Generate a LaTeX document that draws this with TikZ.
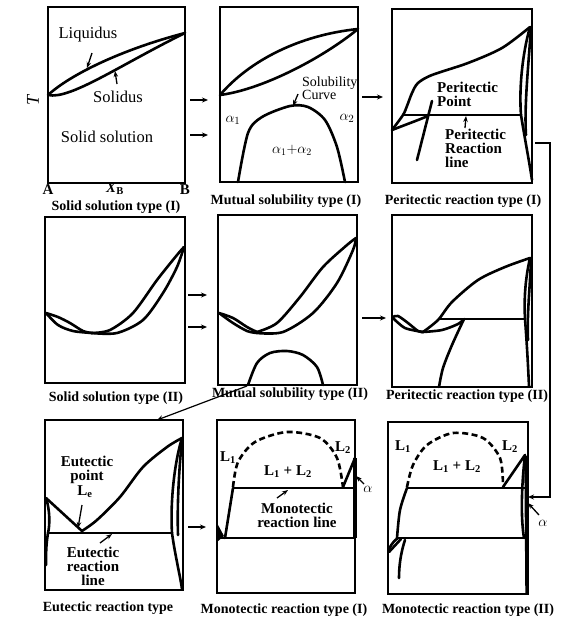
\documentclass[tikz,border=0pt]{standalone}
\usepackage{fontspec}
\setmainfont{Liberation Serif}
\usetikzlibrary{arrows.meta}

\begin{document}
\begin{tikzpicture}[
			x=1pt, y=-1pt,
			panel/.style={line width=2pt},
			curve/.style={line width=2.6pt, line join=round, line cap=round},
			tie/.style={line width=2pt},
			dome/.style={line width=2.6pt, dash pattern=on 6pt off 3.5pt},
			flow/.style={-{Stealth[length=6pt, width=5pt]}, line width=1.2pt},
			pointer/.style={-{Stealth[length=6pt, width=4.5pt]}, line width=1.3pt},
			caption/.style={font=\bfseries\fontsize{14}{16}\selectfont, inner sep=0pt},
			plain/.style={font=\fontsize{16.5}{18}\selectfont, inner sep=0pt},
			bold/.style={font=\bfseries\fontsize{15}{14}\selectfont, inner sep=0pt, align=left}
			]
			\useasboundingbox (0,0) rectangle (564,619);
			
			% Solid solution type (I)
			\draw[panel] (48,7) rectangle (185,183);
			\draw[curve] (48,95) .. controls (70,75) and (120,50) .. (185,33);
			\draw[curve] (48,95) .. controls (70,100) and (120,65) .. (185,33);
			\node[plain] (liq) at (88,35) {Liquidus};
			\node[plain] (sol) at (118,97) {Solidus};
			\node[plain] (ss) at (107,137) {Solid solution};
			\coordinate (liq-from) at (92,53);
			\coordinate (liq-to) at (87,68);
			\coordinate (sol-from) at (117,84);
			\coordinate (sol-to) at (115,71);
			\draw[pointer] (liq-from) -- (liq-to);
			\draw[pointer] (sol-from) -- (sol-to);
			\node[font=\bfseries\fontsize{15}{16}\selectfont, inner sep=0pt] (xa) at (48,190) {A};
			\node[font=\bfseries\fontsize{15}{16}\selectfont, inner sep=0pt] (xb) at (115,189) {\textit{X}\textsubscript{B}};
			\node[font=\bfseries\fontsize{15}{16}\selectfont, inner sep=0pt] (xbb) at (185,190) {B};
			\node[font=\itshape\fontsize{18}{18}\selectfont, rotate=90] (temp) at (33,100) {T};
			\node[caption] (c1) at (116,207) {Solid solution type (I)};
			
			% Mutual solubility type (I)
			\draw[panel] (220,7) rectangle (358,182);
			\draw[curve] (220,95) .. controls (250,60) and (300,35) .. (358,29);
			\draw[curve] (220,95) .. controls (260,90) and (320,60) .. (358,29);
			\draw[curve] plot[smooth] coordinates {(238,182) (248,133) (262,117) (290,106) (308,107) (325,120) (337,147) (345,182)};
			\node[font=\fontsize{14}{13}\selectfont, inner sep=0pt, align=left, anchor=west] (solcurve) at (302,88) {Solubility\\Curve};
			\coordinate (sc-from) at (298,94);
			\coordinate (sc-to) at (293,106);
			\draw[pointer] (sc-from) -- (sc-to);
			\node[font=\fontsize{15}{16}\selectfont] (a1) at (233,120) {$\alpha_1$};
			\node[font=\fontsize{15}{16}\selectfont] (a2) at (347,118) {$\alpha_2$};
			\node[font=\fontsize{14}{16}\selectfont] (a12) at (292,150) {$\alpha_1{+}\alpha_2$};
			\node[caption] (c2) at (286,201) {Mutual solubility type (I)};
			
			% Peritectic reaction type (I)
			\draw[panel] (392,9) rectangle (532,183);
			\draw[curve] plot[smooth] coordinates {(392,130) (403,115) (407,106) (412,93) (418,83) (432,75) (468,63) (502,48) (530,27)};
			\draw[curve] plot[smooth] coordinates {(392,130) (405,125) (418,120) (428,116)};
			\draw[tie] (403,115) -- (521,115);
			\draw[curve] (530,27) .. controls (522,55) and (519,90) .. (521,115);
			\draw[curve] (531,27) .. controls (529,60) and (524,105) .. (526,135);
			\draw[curve] (521,115) .. controls (525,140) and (529,160) .. (532,180);
			\coordinate (pp-low) at (417,160);
			\coordinate (pp-high) at (432,101);
			\draw[curve] (pp-low) -- (pp-high);
			\node[bold, anchor=west] (ppoint) at (437,94.5) {Peritectic\\Point};
			\node[bold, anchor=west] (pline) at (445,148) {Peritectic\\Reaction\\line};
			\coordinate (pl-from) at (465,128);
			\coordinate (pl-to) at (466,116);
			\draw[pointer] (pl-from) -- (pl-to);
			\node[caption] (c3) at (463,201) {Peritectic reaction type (I)};
			
			% Solid solution type (II)
			\draw[panel] (45,217) rectangle (185,383);
			\draw[curve] plot[smooth] coordinates {(46,313) (58,317) (70,323) (83,331) (92,333)};
			\draw[curve] plot[smooth] coordinates {(46,313) (58,325) (73,331) (92,333)};
			\draw[curve] plot[smooth] coordinates {(92,333) (110,330) (133,313) (157,280) (177,255) (184,247)};
			\draw[curve] plot[smooth] coordinates {(92,333) (117,333) (143,320) (163,293) (177,267) (184,247)};
			\node[caption] (c4) at (116,398) {Solid solution type (II)};
			
			% Mutual solubility type (II)
			\draw[panel] (218,215) rectangle (357,385);
			\draw[curve] plot[smooth] coordinates {(219,313) (233,318) (247,327) (257,332)};
			\draw[curve] plot[smooth] coordinates {(219,313) (233,323) (247,331) (257,333)};
			\draw[curve] plot[smooth] coordinates {(257,332) (277,323) (300,297) (323,267) (347,245) (356,238)};
			\draw[curve] plot[smooth] coordinates {(257,333) (283,332) (313,313) (337,283) (353,250) (356,238)};
			\draw[curve] plot[smooth] coordinates {(248,385) (257,363) (270,353) (287,351) (303,355) (317,367) (323,385)};
			\node[caption] (c5) at (290,394) {Mutual solubility type (II)};
			
			% Peritectic reaction type (II)
			\draw[panel] (392,215) rectangle (532,387);
			\draw[curve] plot[smooth] coordinates {(393,317) (398,316) (408,323) (418,331) (423,332)};
			\draw[curve] plot[smooth] coordinates {(393,318) (405,328) (423,332)};
			\draw[curve] plot[smooth] coordinates {(423,332) (438,320) (452,302) (478,280) (505,267) (530,258)};
			\draw[curve] plot[smooth] coordinates {(423,332) (442,330) (458,324) (464,319)};
			\draw[tie] (438,319) -- (525,319);
			\draw[curve] plot[smooth] coordinates {(464,319) (452,345) (443,368) (439,387)};
			\draw[curve] (530,258) .. controls (525,280) and (524,300) .. (525,319);
			\draw[curve] (531,258) .. controls (530,290) and (527,310) .. (528,340);
			\draw[curve] (525,319) .. controls (527,345) and (528,365) .. (529,386);
			\node[caption] (c6) at (467,396) {Peritectic reaction type (II)};
			
			% Eutectic reaction type
			\draw[panel] (45,420) rectangle (183,590);
			\draw[curve] (46,498) -- (82,531);
			\draw[curve] plot[smooth] coordinates {(82,531) (97,520) (120,497) (143,467) (167,447) (182,438)};
			\draw[tie] (48,533) -- (172,533);
			\draw[curve] (46,498) .. controls (50,510) and (50,525) .. (48,533);
			\draw[curve] (48,533) .. controls (46,545) and (46,555) .. (46,565);
			\draw[curve] (182,438) .. controls (175,460) and (170,500) .. (172,533);
			\draw[curve] (182,439) .. controls (179,470) and (177,505) .. (178,535);
			\draw[curve] (172,533) .. controls (175,555) and (180,575) .. (182,589);
			\node[bold, align=center] (ept) at (87,469.5) {Eutectic\\point};
			\node[font=\bfseries\fontsize{15}{16}\selectfont, inner sep=0pt] (le) at (85,492) {L\textsubscript{e}};
			\coordinate (le-from) at (82,505);
			\coordinate (le-to) at (78,528);
			\draw[pointer] (le-from) -- (le-to);
			\node[bold, align=center] (eline) at (93,566) {Eutectic\\reaction\\line};
			\coordinate (el-from) at (100,543);
			\coordinate (el-to) at (112,534);
			\draw[pointer] (el-from) -- (el-to);
			\node[caption] (c7) at (108,608) {Eutectic reaction type};
			
			% Monotectic reaction type (I)
			\draw[panel] (217,420) rectangle (355,593);
			\draw[dome] plot[smooth] coordinates {(233,487) (238,462) (255,442) (287,432) (320,438) (337,458) (343,487)};
			\draw[curve] (343,487) -- (355,458);
			\draw[tie] (233,488) -- (355,488);
			\draw[curve] (233,488) -- (225,538);
			\draw[tie] (218,538) -- (355,538);
			\fill (217,523) -- (224,536) -- (217,542) -- cycle;
			\draw[line width=3.6pt] (355,458) -- (355,538);
			\node[font=\bfseries\fontsize{15}{16}\selectfont, inner sep=0pt] (l1a) at (228,458) {L\textsubscript{1}};
			\node[font=\bfseries\fontsize{15}{16}\selectfont, inner sep=0pt] (l2a) at (343,448) {L\textsubscript{2}};
			\node[font=\bfseries\fontsize{15}{16}\selectfont, inner sep=0pt] (l12a) at (288,472) {L\textsubscript{1} + L\textsubscript{2}};
			\node[bold, align=center] (mline) at (297,515) {Monotectic\\reaction line};
			\coordinate (ml-from) at (277,498);
			\coordinate (ml-to) at (288,490);
			\draw[pointer] (ml-from) -- (ml-to);
			\node[font=\fontsize{15}{16}\selectfont, inner sep=0pt] (alpha1) at (368,489) {$\alpha$};
			\coordinate (al1-from) at (364,484);
			\coordinate (al1-to) at (356,476);
			\draw[pointer] (al1-from) -- (al1-to);
			\node[caption] (c8) at (284,610) {Monotectic reaction type (I)};
			
			% Monotectic reaction type (II)
			\draw[panel] (388,422) rectangle (528,594);
			\draw[dome] plot[smooth] coordinates {(407,487) (413,465) (427,445) (453,433) (483,438) (500,458) (503,485)};
			\draw[curve] (503,487) -- (525,455);
			\draw[tie] (407,488) -- (525,488);
			\draw[curve] plot[smooth] coordinates {(407,488) (400,510) (397,538)};
			\draw[tie] (397,538) -- (525,538);
			\draw[curve] (389,552) -- (401,539);
			\draw[curve] (389,549) .. controls (392,543) and (395,540) .. (398,538);
			\draw[curve] (405,540) .. controls (401,552) and (399,565) .. (399,578);
			\draw[curve] (525,455) .. controls (521,490) and (521,520) .. (524,538);
			\draw[line width=3.4pt] (526,456) -- (527,593);
			\node[font=\bfseries\fontsize{15}{16}\selectfont, inner sep=0pt] (l1b) at (403,447) {L\textsubscript{1}};
			\node[font=\bfseries\fontsize{15}{16}\selectfont, inner sep=0pt] (l2b) at (510,447) {L\textsubscript{2}};
			\node[font=\bfseries\fontsize{15}{16}\selectfont, inner sep=0pt] (l12b) at (457,467) {L\textsubscript{1} + L\textsubscript{2}};
			\node[font=\fontsize{15}{16}\selectfont, inner sep=0pt] (alpha2) at (543,523) {$\alpha$};
			\coordinate (al2-from) at (539,515);
			\coordinate (al2-to) at (528,503);
			\draw[pointer] (al2-from) -- (al2-to);
			\node[caption] (c9) at (468,610) {Monotectic reaction type (II)};
			
			% transitions between the types
			\coordinate (t1a) at (190,100);
			\coordinate (t1b) at (208,100);
			\coordinate (t2a) at (190,135);
			\coordinate (t2b) at (208,135);
			\draw[flow] (t1a) -- (t1b);
			\draw[flow] (t2a) -- (t2b);
			\coordinate (t3a) at (362,97);
			\coordinate (t3b) at (383,97);
			\draw[flow] (t3a) -- (t3b);
			\coordinate (t4a) at (188,295);
			\coordinate (t4b) at (207,295);
			\coordinate (t5a) at (188,327);
			\coordinate (t5b) at (207,327);
			\draw[flow] (t4a) -- (t4b);
			\draw[flow] (t5a) -- (t5b);
			\coordinate (t6a) at (362,318);
			\coordinate (t6b) at (386,318);
			\draw[flow] (t6a) -- (t6b);
			\coordinate (t7a) at (247,386);
			\coordinate (t7b) at (157,420);
			\draw[flow] (t7a) -- (t7b);
			\coordinate (t8a) at (188,527);
			\coordinate (t8b) at (206,527);
			\draw[flow] (t8a) -- (t8b);
			\coordinate (t9a) at (535,143);
			\coordinate (t9k) at (550,143);
			\coordinate (t9b) at (528,497);
			\draw[flow] (t9a) -- (t9k) |- (t9b);
		\end{tikzpicture}
\end{document}
